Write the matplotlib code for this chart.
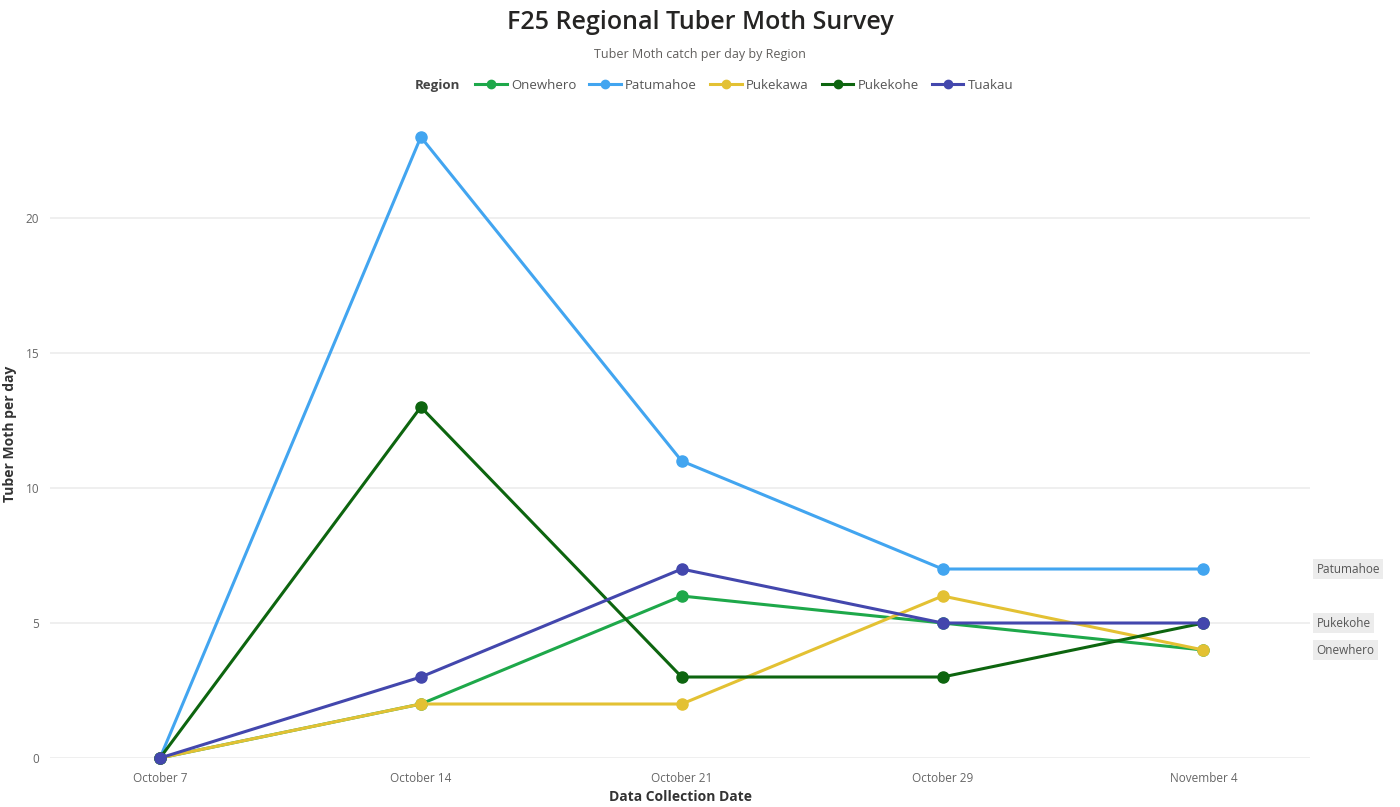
import matplotlib.pyplot as plt
from matplotlib.lines import Line2D

# data
dates = ["October 7", "October 14", "October 21", "October 29", "November 4"]
regions = ["Onewhero", "Patumahoe", "Pukekawa", "Pukekohe", "Tuakau"]
onewhero = [0, 2, 6, 5, 4]
patumahoe = [0, 23, 11, 7, 7]
pukekawa = [0, 2, 2, 6, 4]
pukekohe = [0, 13, 3, 3, 5]
tuakau = [0, 3, 7, 5, 5]
end_labels = ["Patumahoe", "Pukekohe", "Onewhero"]

series = [onewhero, patumahoe, pukekawa, pukekohe, tuakau]
colors = ["#1ea84a", "#42a5f0", "#e3c133", "#0d650f", "#4347ad"]

plt.rcParams['font.family'] = ['Open Sans', 'DejaVu Sans']

fig = plt.figure(figsize=(14, 8.07), dpi=100)
ax = fig.add_axes([0.036, 0.0607, 0.900, 0.803])

x = list(range(len(dates)))
# draw order: Tuakau ends on top at the zero point
order = [1, 3, 0, 2, 4]
for i in order:
    ax.plot(x, series[i], color=colors[i], lw=2.2, marker='o', markersize=8,
            clip_on=False, zorder=3 + i)

ax.set_xlim(-0.42, 4.41)
ax.set_ylim(0, 24)
ax.set_yticks([0, 5, 10, 15, 20])
ax.set_xticks(x)
ax.set_xticklabels(dates)
ax.grid(axis='y', color='#ececec', lw=1.2)
ax.set_axisbelow(True)
for s in ax.spines.values():
    s.set_visible(False)
ax.tick_params(length=0, labelsize=8.5, labelcolor='#666666')
ax.tick_params(axis='x', pad=10)
ax.tick_params(axis='y', pad=8)
ax.set_xlabel("Data Collection Date", fontsize=10, color='#333333',
              fontweight='bold', labelpad=4)
ax.set_ylabel("Tuber Moth per day", fontsize=10, color='#333333',
              fontweight='bold', labelpad=6)

# end-of-line labels
end_vals = {"Patumahoe": 7, "Pukekohe": 5, "Onewhero": 4}
for name in end_labels:
    ax.annotate(name, xy=(4, end_vals[name]), xytext=(113, 0),
                textcoords='offset pixels',
                ha='left', va='center', fontsize=8.5, color='#555555',
                annotation_clip=False,
                bbox=dict(boxstyle='square,pad=0.3', fc='#ececec', ec='none'))

fig.text(0.5, 0.972, "F25 Regional Tuber Moth Survey", ha='center', va='center',
         fontsize=18, color='#252423', fontweight='semibold')
fig.text(0.5, 0.932, "Tuber Moth catch per day by Region", ha='center',
         va='center', fontsize=9, color='#605e5c')

handles = [Line2D([0], [0], color=c, lw=2.2, marker='o', markersize=6)
           for c in colors]
fig.text(0.296, 0.894, "Region", ha='left', va='center', fontsize=9.5,
         fontweight='bold', color='#444444')
fig.legend(handles, regions, loc='center left', bbox_to_anchor=(0.331, 0.894),
           ncol=5, frameon=False, fontsize=9.5, handlelength=2.4,
           handletextpad=0.3, columnspacing=1.0, labelcolor='#555555')

fig.savefig("out.png", dpi=100)
